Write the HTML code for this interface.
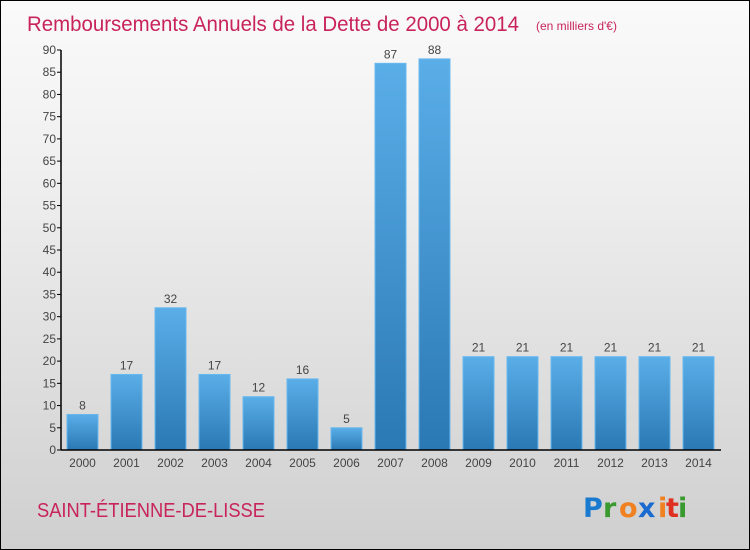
<!DOCTYPE html>
<html><head><meta charset="utf-8"><style>
body{margin:0}
#c{position:relative;width:748px;height:548px;border:1px solid #000;background:linear-gradient(#fafafa,#f0f0f0 30%,#cfcfcf);font-family:"Liberation Sans",sans-serif;overflow:hidden}
</style></head><body>
<div id="c">
<svg width="748" height="548" style="position:absolute;left:0;top:0" id="s">
<defs><linearGradient id="g" x1="0" y1="0" x2="0" y2="1"><stop offset="0" stop-color="#5aaee8"/><stop offset="1" stop-color="#2a78b4"/></linearGradient></defs>
<text x="26" y="30" font-size="21" fill="#c8245a" textLength="492" lengthAdjust="spacingAndGlyphs">Remboursements Annuels de la Dette de 2000 à 2014</text>
<text x="535" y="29" font-size="12" fill="#c8245a">(en milliers d'€)</text>
<text x="36" y="516" font-size="20" fill="#c8245a" textLength="228" lengthAdjust="spacingAndGlyphs">SAINT-ÉTIENNE-DE-LISSE</text>
<g font-size="27" font-weight="bold" font-family="'DejaVu Sans',sans-serif">
<text x="582" y="516" fill="#1a7ad0">P</text><text x="602" y="516" fill="#3a9a30">r</text><text x="618" y="516" fill="#f08020">o</text><text x="637" y="516" fill="#1a6ad0">x</text><text x="657" y="516" fill="#f08020">i</text><text x="665" y="516" fill="#e03020">t</text><text x="677" y="516" fill="#3a9a30">i</text></g>
<g id="plot"></g>
</svg>
</div>
<script>
const categories=["2000","2001","2002","2003","2004","2005","2006","2007","2008","2009","2010","2011","2012","2013","2014"];
const values=[8,17,32,17,12,16,5,87,88,21,21,21,21,21,21];
const ticks=[0,5,10,15,20,25,30,35,40,45,50,55,60,65,70,75,80,85,90];
const ns="http://www.w3.org/2000/svg",p=document.getElementById('plot');
const y=v=>449-v*400/90, x=i=>81.5+i*44;
function mk(t,a,txt){const e=document.createElementNS(ns,t);for(const k in a)e.setAttribute(k,a[k]);if(txt!=null)e.textContent=txt;p.appendChild(e);return e;}
ticks.forEach(t=>{
 const l=mk('line',{x1:56,x2:60,y1:y(t),y2:y(t),stroke:'#000'});
 
 
 const tx=mk('text',{x:55,y:y(t)+4,'font-size':12,fill:'#444','text-anchor':'end'},t);
 
 
});
categories.forEach((c,i)=>{
 const v=values[i];
 const r=mk('rect',{x:x(i)-15.5,y:y(v),width:31,height:449-y(v),fill:'url(#g)',stroke:'#6ab8ee','stroke-width':1});
 
 
 const vl=mk('text',{x:x(i),y:y(v)-5,'font-size':12,fill:'#444','text-anchor':'middle'},v);
 
 
 const xl=mk('text',{x:x(i),y:466,'font-size':12,fill:'#444','text-anchor':'middle'},c);
 
 
});
const ya=mk('line',{x1:60,x2:60,y1:y(90),y2:449,stroke:'#000','stroke-width':1.5});


const xa=mk('line',{x1:60,x2:720,y1:449,y2:449,stroke:'#000','stroke-width':1.5});


</script>
</body></html>
